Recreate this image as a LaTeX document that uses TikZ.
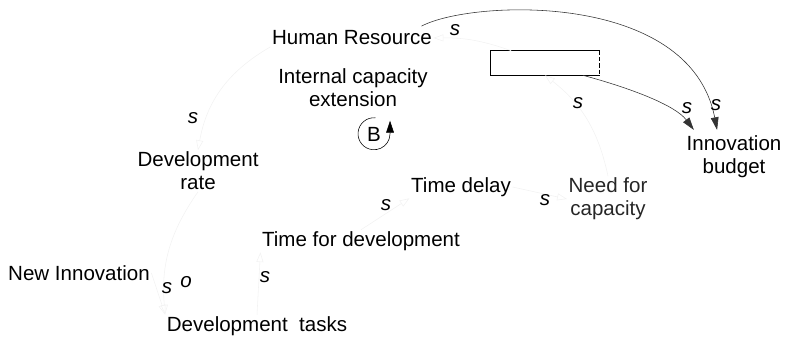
\documentclass[tikz,border=0pt]{standalone}
\usepackage{fontspec}
\setmainfont{Liberation Sans}
\usetikzlibrary{arrows.meta}
\begin{document}
\begin{tikzpicture}[x=0.025cm, y=-0.025cm,
  lbl/.style={align=center, inner sep=1pt, font=\fontsize{14.6}{16.5}\selectfont},
  pol/.style={inner sep=0pt, font=\fontsize{14.6}{16.5}\selectfont\itshape},
  faint/.style={draw=black!5, -{Triangle[length=7pt,width=5pt,open]}},
  link/.style={draw=black!80, -{Triangle[length=9pt,width=5.5pt]}}]
\useasboundingbox (0,0) rectangle (787,339);
% variables
\node[lbl] (hr) at (352,38) {Human Resource};
\node[lbl] (ice) at (353,88) {Internal capacity\\extension};
\node[lbl] (devrate) at (198,171) {Development\\rate};
\node[lbl] (newinn) at (79,273) {New Innovation};
\node[lbl] (devtasks) at (257,326) {Development\ \ tasks};
\node[lbl] (timedev) at (361,241) {Time for development};
\node[lbl] (timedelay) at (461,187) {Time delay};
\node[lbl, text=black!85] (needcap) at (608,199) {Need for\\capacity};
\node[lbl, inner sep=4pt] (innbudget) at (734,157) {Innovation\\budget};
% the box
\node[minimum width=2.725cm, minimum height=0.6cm, inner sep=0pt] (resbox) at (545,63) {};
\draw[line width=0.9pt] (resbox.north east) -- (resbox.north west) -- (resbox.south west) -- (resbox.south east);
\draw[line width=0.9pt, dash pattern=on 3pt off 1.5pt] (resbox.north east) -- (resbox.south east);
% loop sign
\node[lbl, circle, minimum size=0.8cm, inner sep=0pt] (bloop) at (374,134) {B};
\draw[-{Triangle[length=8.5pt,width=5.5pt]}] (bloop.85) arc[start angle=85, end angle=360, radius=0.4cm] -- ++(0,-13);
% links
\draw[link] (hr.north east) ++(-12,-3) coordinate (hrout) .. controls (470,0) and (690,-10) .. (innbudget.122);
\draw[link] (resbox.-18) .. controls (630,88) and (675,105) .. (innbudget.146);
\draw[faint] (resbox.160) to[bend right=10] (hr.east);
\draw[faint] (hr.south west) to[bend right=25] (devrate.north);
\draw[faint] (devrate.south) to[bend right=20] (devtasks.north west);
\draw[faint] (newinn.east) -- (devtasks.north west);
\draw[faint] (devtasks.north) -- (timedev.south west);
\draw[faint] (timedev.north) -- (timedelay.south west);
\draw[faint] (timedelay.east) -- (needcap.west);
\draw[faint] (needcap.north) to[bend right=20] (resbox.south);
% polarities
\foreach \px/\py [count=\i] in {455/30, 578/103, 687/108, 716/105, 193/118, 386/205, 545/200, 167/288, 265/277}
  \node[pol] (s\i) at (\px,\py) {s};
\node[pol] (o1) at (186,282) {o};
\end{tikzpicture}
\end{document}
